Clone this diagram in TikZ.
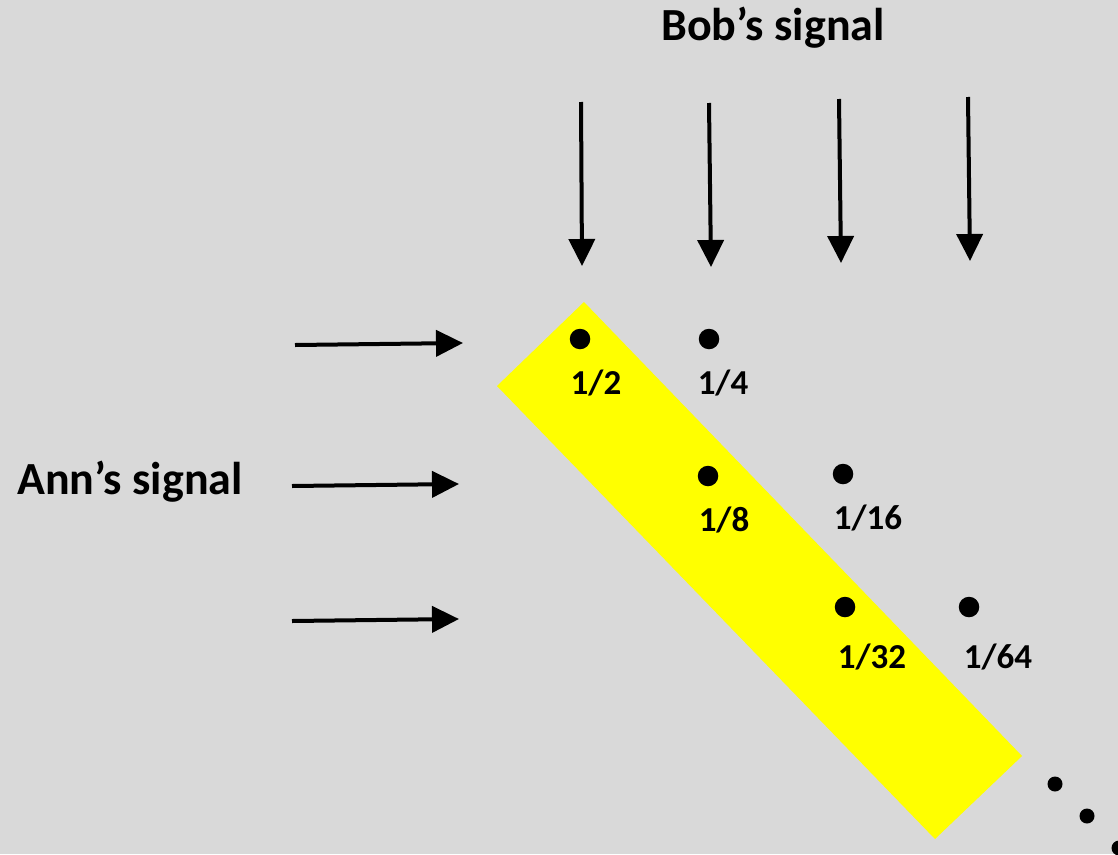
\documentclass[tikz,border=0pt]{standalone}
\usepackage{fontspec}
\setmainfont{Carlito}
\usetikzlibrary{arrows.meta}
\definecolor{bg}{HTML}{D9D9D9}
\definecolor{hl}{HTML}{FFFF00}
\begin{document}
\begin{tikzpicture}[x=1pt,y=-1pt,
  sig/.style={line width=4pt,-{Triangle[length=27pt,width=26pt]},shorten >=0pt},
  pt/.style={circle,fill=black,inner sep=0pt,minimum size=20.5pt},
  sm/.style={circle,fill=black,inner sep=0pt,minimum size=15pt},
  lab/.style={font=\fontsize{35}{40}\selectfont\bfseries,inner sep=0pt},
  title/.style={font=\fontsize{46}{52}\selectfont\bfseries,inner sep=0pt}]
\fill[bg] (0,0) rectangle (1118,854);
\useasboundingbox (0,0) rectangle (1118,854);
\begin{scope}
\clip (0,0) rectangle (1118,854);
% highlight band
\fill[hl] (584,302) -- (1022,756) -- (935,839) -- (497,386) -- cycle;
% titles
\node[title] (bob) at (773,28) {Bob’s signal};
\node[title] (ann) at (130,482) {Ann’s signal};
% dots
\node[pt] (d1) at (580,339) {};
\node[pt] (d2) at (709,339) {};
\node[pt] (d3) at (708,476) {};
\node[pt] (d4) at (843,474) {};
\node[pt] (d5) at (845,607) {};
\node[pt] (d6) at (969,607) {};
\node[lab] (l1) at (596,383) {1/2};
\node[lab] (l2) at (723,383) {1/4};
\node[lab] (l3) at (724,520) {1/8};
\node[lab] (l4) at (868,518) {1/16};
\node[lab] (l5) at (872,657) {1/32};
\node[lab] (l6) at (998,657) {1/64};
% ellipsis
\node[sm] (e1) at (1055,784) {};
\node[sm] (e2) at (1087,816) {};
\node[sm] (e3) at (1119,848) {};
% Bob arrows
\coordinate (b1s) at (581,102); \coordinate (b1e) at (582,266);
\coordinate (b2s) at (709,103); \coordinate (b2e) at (711,267);
\coordinate (b3s) at (839,99);  \coordinate (b3e) at (841,263);
\coordinate (b4s) at (968,97);  \coordinate (b4e) at (970,261);
\draw[sig] (b1s) -- (b1e);
\draw[sig] (b2s) -- (b2e);
\draw[sig] (b3s) -- (b3e);
\draw[sig] (b4s) -- (b4e);
% Ann arrows
\coordinate (a1s) at (295,345); \coordinate (a1e) at (463,343);
\coordinate (a2s) at (292,486); \coordinate (a2e) at (459,484);
\coordinate (a3s) at (292,621); \coordinate (a3e) at (459,619);
\draw[sig] (a1s) -- (a1e);
\draw[sig] (a2s) -- (a2e);
\draw[sig] (a3s) -- (a3e);
\end{scope}
\end{tikzpicture}
\end{document}
